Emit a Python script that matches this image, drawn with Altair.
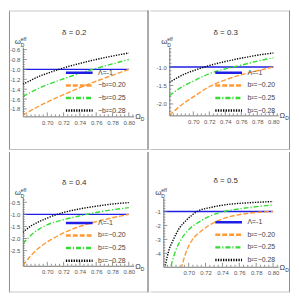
import altair as alt
import pandas as pd

FONT = "Liberation Sans"
AXIS_GRAY = "#777777"
LABEL_GRAY = "#555555"
TEXT_GRAY = "#333333"

# ---------------- data ----------------
X_DOMAIN = [0.67, 0.806]
X_MAJOR = [0.70, 0.72, 0.74, 0.76, 0.78, 0.80]

LAMBDA_LABEL = "Λ=-1"
LAMBDA_X = [0.67, 0.80]
LAMBDA_Y = [-1.0, -1.0]

SERIES_COLORS = ["#1e1ee6", "#ff9933", "#33dd33", "#000000"]
SERIES_DASHES = [[1, 0], [5, 2], [5, 2, 1.2, 2], [1.3, 1.3]]

P1_LABELS = ["−b²=0.20", "−b²=0.25", "−b²=0.28"]
P_LABELS = ["b²=−0.20", "b²=−0.25", "b²=−0.28"]
DELTAS = ["δ = 0.2", "δ = 0.3", "δ = 0.4", "δ = 0.5"]

CURVE_X = [0.67, 0.68, 0.69, 0.70, 0.72, 0.74, 0.76, 0.78, 0.80]

P1_ORANGE = [-1.93, -1.83, -1.74, -1.66, -1.51, -1.37, -1.24, -1.12, -1.00]
P1_GREEN = [-1.55, -1.46, -1.38, -1.31, -1.19, -1.08, -0.98, -0.89, -0.80]
P1_BLACK = [-1.30, -1.22, -1.14, -1.08, -0.97, -0.88, -0.80, -0.73, -0.67]

P2_ORANGE = [-2.31, -2.12, -1.95, -1.81, -1.53, -1.35, -1.21, -1.10, -1.00]
P2_GREEN = [-1.78, -1.62, -1.49, -1.38, -1.18, -1.05, -0.95, -0.84, -0.75]
P2_BLACK = [-1.42, -1.29, -1.18, -1.10, -0.96, -0.85, -0.76, -0.68, -0.62]

P3_ORANGE = [-3.12, -2.70, -2.38, -2.14, -1.77, -1.50, -1.30, -1.14, -1.00]
P3_GREEN = [-2.22, -1.86, -1.61, -1.43, -1.22, -1.06, -0.92, -0.81, -0.72]
P3_BLACK = [-1.74, -1.48, -1.30, -1.15, -0.92, -0.77, -0.66, -0.57, -0.51]

P4_ORANGE_X = [0.689, 0.697, 0.704, 0.716, 0.731, 0.750, 0.772, 0.800]
P4_ORANGE = [-5.6, -3.9, -3.06, -2.35, -1.76, -1.35, -1.12, -1.00]
P4_GREEN_X = [0.676, 0.684, 0.691, 0.700, 0.712, 0.727, 0.742, 0.765, 0.800]
P4_GREEN = [-5.6, -3.9, -3.0, -2.3, -1.76, -1.28, -1.0, -0.77, -0.53]
P4_BLACK_X = [0.670, 0.676, 0.682, 0.689, 0.697, 0.710, 0.727, 0.750, 0.770, 0.800]
P4_BLACK = [-5.6, -3.9, -3.0, -2.2, -1.64, -1.0, -0.70, -0.47, -0.38, -0.29]

P1_Y_DOMAIN = [-1.95, -0.55]
P1_Y_MAJOR = [-1.8, -1.6, -1.4, -1.2, -1.0, -0.8, -0.6]
P2_Y_DOMAIN = [-2.31, -0.46]
P2_Y_MAJOR = [-2.0, -1.5, -1.0]
P3_Y_DOMAIN = [-3.13, -0.30]
P3_Y_MAJOR = [-2.5, -2.0, -1.5, -1.0, -0.5]
P4_Y_DOMAIN = [-4.96, 0.0]
P4_Y_MAJOR = [-4, -3, -2, -1]


def minor_ticks(lo, hi, step, majors):
    out = []
    k = int(round(lo / step)) - 1
    while k * step <= hi + 1e-9:
        v = round(k * step, 4)
        if lo < v < hi and all(abs(v - m) > 1e-6 for m in majors):
            out.append(v)
        k += 1
    return out


X_MINOR = minor_ticks(X_DOMAIN[0], X_DOMAIN[1], 0.005, X_MAJOR)

ONE = pd.DataFrame({"a": [0]})


def make_panel(delta, labels, curves, ydom, ymajor, ystep, ydec, w, h,
               bounds, borders, leg_xy, title_xy):
    domain = [LAMBDA_LABEL] + labels
    rows = [dict(x=a, y=b, s=LAMBDA_LABEL) for a, b in zip(LAMBDA_X, LAMBDA_Y)]
    for lab, (xs, ys) in zip(labels, curves):
        rows += [dict(x=a, y=b, s=lab) for a, b in zip(xs, ys)]
    df = pd.DataFrame(rows)

    xscale = alt.Scale(domain=X_DOMAIN, nice=False, zero=False)
    yscale = alt.Scale(domain=ydom, nice=False, zero=False)
    ylabel = f"(datum.value < 0 ? '-' : '') + format(abs(datum.value), '.{ydec}f')"
    xaxis = alt.Axis(values=X_MAJOR, labelExpr="format(datum.value, '.2f')",
                     ticks=False, grid=False, title=None, labelPadding=3)
    yaxis = alt.Axis(values=ymajor, labelExpr=ylabel, ticks=False, grid=False,
                     title=None, labelPadding=3)

    leg = alt.Legend(orient="none", legendX=leg_xy[0], legendY=leg_xy[1], title=None,
                     symbolType="stroke", symbolSize=729, symbolStrokeWidth=2.5,
                     labelFontSize=7, labelColor="#444444", labelFont=FONT,
                     clipHeight=10, rowPadding=2.7, padding=0, labelOffset=4)

    lines = alt.Chart(df).mark_line(clip=True, strokeWidth=1.4, interpolate="monotone").encode(
        x=alt.X("x:Q", scale=xscale, axis=xaxis),
        y=alt.Y("y:Q", scale=yscale, axis=yaxis),
        color=alt.Color("s:N", scale=alt.Scale(domain=domain, range=SERIES_COLORS), legend=leg),
        strokeDash=alt.StrokeDash("s:N", scale=alt.Scale(domain=domain, range=SERIES_DASHES), legend=leg),
    )

    yminor = minor_ticks(ydom[0], ydom[1], ystep, ymajor)
    layers = [lines]
    for vals, ln in ((ymajor, 4), (yminor, 2)):
        layers.append(alt.Chart(pd.DataFrame({"v": vals})).mark_rule(color=AXIS_GRAY, strokeWidth=0.8).encode(
            y=alt.Y("v:Q", scale=yscale, axis=yaxis), x=alt.value(0), x2=alt.value(ln)))
    for vals, ln in ((X_MAJOR, 4), (X_MINOR, 2)):
        layers.append(alt.Chart(pd.DataFrame({"v": vals})).mark_rule(color=AXIS_GRAY, strokeWidth=0.8).encode(
            x=alt.X("v:Q", scale=xscale, axis=xaxis), y=alt.value(h), y2=alt.value(h - ln)))

    def txt(t, x, y, size, **kw):
        return alt.Chart(ONE).mark_text(text=t, fontSize=size, font=FONT, color=TEXT_GRAY,
                                        **kw).encode(x=alt.value(x), y=alt.value(y))

    layers += [
        txt(delta, title_xy[0], title_xy[1], 8, baseline="middle", align="center"),
        txt("ω", -5, -3, 8, baseline="alphabetic", align="center"),
        txt("eff", -2, -6, 5, baseline="alphabetic", align="left"),
        txt("D", -2, 0, 5, baseline="alphabetic", align="left"),
        txt("Ω", w + 1.5, h + 3, 7.5, baseline="alphabetic", align="left"),
        txt("D", w + 7.2, h + 5, 5, baseline="alphabetic", align="left"),
    ]

    bx1, by1, bx2, by2 = bounds
    layers.append(alt.Chart(ONE).mark_rect(opacity=0).encode(
        x=alt.value(bx1), x2=alt.value(bx2), y=alt.value(by1), y2=alt.value(by2)))
    for kind, pos, col in borders:
        if kind == "v":
            enc = dict(x=alt.value(pos), y=alt.value(by1), y2=alt.value(by2))
        else:
            enc = dict(y=alt.value(pos), x=alt.value(bx1), x2=alt.value(bx2))
        layers.append(alt.Chart(ONE).mark_rule(color=col, strokeWidth=1).encode(**enc))

    return alt.layer(*layers).properties(width=w, height=h)


OUTER_V = "#8c8c8c"
OUTER_H = "#c8c8c8"
MID_V = "#555555"
MID_H = "#bdbdbd"

p1 = make_panel(DELTAS[0], P1_LABELS,
                [(CURVE_X, P1_ORANGE), (CURVE_X, P1_GREEN), (CURVE_X, P1_BLACK)],
                P1_Y_DOMAIN, P1_Y_MAJOR, 0.05, 1, 112, 70,
                (-14, -37, 127, 104),
                [("v", -13.5, OUTER_V), ("h", -36.5, OUTER_H), ("v", 126.5, MID_V), ("h", 103.5, MID_H)],
                (42, 21), (52, -14))
p2 = make_panel(DELTAS[1], P_LABELS,
                [(CURVE_X, P2_ORANGE), (CURVE_X, P2_GREEN), (CURVE_X, P2_BLACK)],
                P2_Y_DOMAIN, P2_Y_MAJOR, 0.1, 1, 110, 69,
                (-19, -37, 122, 104),
                [("h", -36.5, OUTER_H), ("v", 121.5, OUTER_V), ("h", 103.5, MID_H)],
                (45, 21), (57, -14))
p3 = make_panel(DELTAS[2], P_LABELS,
                [(CURVE_X, P3_ORANGE), (CURVE_X, P3_GREEN), (CURVE_X, P3_BLACK)],
                P3_Y_DOMAIN, P3_Y_MAJOR, 0.1, 1, 112, 69,
                (-14, -46, 127, 96),
                [("v", -13.5, OUTER_V), ("v", 126.5, MID_V), ("h", 95.5, OUTER_H)],
                (42, 20.7), (52, -15))
p4 = make_panel(DELTAS[3], P_LABELS,
                [(P4_ORANGE_X, P4_ORANGE), (P4_GREEN_X, P4_GREEN), (P4_BLACK_X, P4_BLACK)],
                P4_Y_DOMAIN, P4_Y_MAJOR, 0.2, 0, 116, 70,
                (-13, -46, 128, 96),
                [("v", 127.5, OUTER_V), ("h", 95.5, OUTER_H)],
                (51, 20), (63, -17))

chart = alt.concat(p1, p2, p3, p4, columns=2, spacing=0, align="none", bounds="full").resolve_scale(
    x="independent", y="independent", color="independent", strokeDash="independent"
).resolve_legend(color="independent", strokeDash="independent").resolve_axis(
    x="independent", y="independent"
).properties(padding=0, background="white").configure_view(strokeWidth=0).configure_axis(
    labelFont=FONT, labelFontSize=6, labelColor=LABEL_GRAY, domainColor=AXIS_GRAY, domainWidth=1
)

chart.save("out.html", embed_options={"renderer": "svg", "actions": False})
